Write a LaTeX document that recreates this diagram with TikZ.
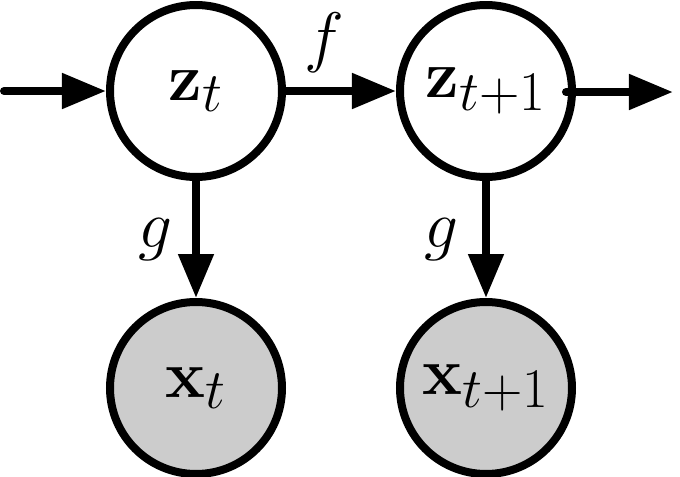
\documentclass[tikz,border=0pt]{standalone}
\usetikzlibrary{arrows.meta}
\DeclareMathSizes{28}{28}{21}{17}
\newcommand\pxu{0.37}
\definecolor{obsfill}{gray}{0.8}
\begin{document}
\begin{tikzpicture}[x=\pxu pt,y=-\pxu pt,
  font=\fontsize{28}{34}\selectfont,
  latent/.style={circle,draw=black,line width={8*\pxu pt},fill=white,minimum size={172*\pxu pt},inner sep=0pt},
  observed/.style={latent,fill=obsfill},
  arr/.style={line width={8*\pxu pt},line cap=round,-{Triangle[length={44*\pxu pt},width={34*\pxu pt}]}},
  lbl/.style={inner sep=0pt}]
\useasboundingbox (0,0) rectangle (680,477);
\node[latent] (zt) at (196,91) {$\mathbf{z}_t$};
\node[latent] (zt1) at (486,91) {$\mathbf{z}_{t+1}$};
\node[observed] (xt) at (196,388) {$\mathbf{x}_t$};
\node[observed] (xt1) at (486,388) {$\mathbf{x}_{t+1}$};
\coordinate (in) at (4,91);
\coordinate (out) at (673,92);
\draw[arr] (in) -- (zt);
\draw[arr] (zt) -- (zt1);
\draw[arr] ([shift={(-10,1)}]zt1.east) -- (out);
\draw[arr] (zt) -- (xt);
\draw[arr] (zt1) -- (xt1);
\node[lbl] (lf) at (324,43) {$f$};
\node[lbl] (lg1) at (155,240) {$g$};
\node[lbl] (lg2) at (441,240) {$g$};
\end{tikzpicture}
\end{document}
